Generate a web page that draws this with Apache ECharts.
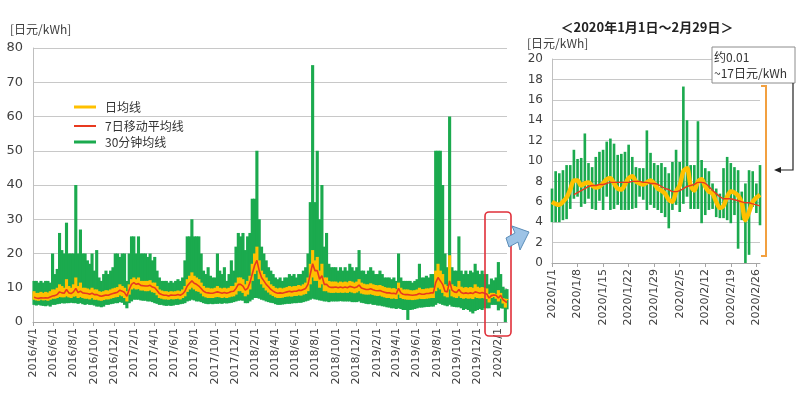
<!DOCTYPE html>
<html><head><meta charset="utf-8">
<script src="https://cdn.jsdelivr.net/npm/echarts@6/dist/echarts.min.js"></script>
<style>html,body{margin:0;padding:0;background:#fff}#c{width:800px;height:394px}</style>
</head><body><div id="c"></div><script>
// ===== Left chart (2016/4/1 - 2020/2/29), weekly summaries =====
const weekHi30 = [12,12,11.5,12, 11.5,12,12,11.5,20, 14,15.5,26,21, 20,29,20,20,20, 40,20,27,20, 20,18,17,20, 15,21,13,12,14, 15,14,15,16, 20,20,19,20,20,
 12,20,25,25, 20,25,20,20, 20,19,20,18, 19,15,13,12, 12,12,11.5,12,11.5, 12,12.5,12,13, 18,25,25,30,25, 25,25,20,15, 14,16,13.5,13,13, 20,15,14,16, 12,14,18,15, 22,26,25,26,21,
 25,26,36,36, 50,30,22,20, 18,16,15,14, 13,12.5,13,12,13, 13,14,13.5,14, 13,14,14,15, 16,20,35,75,35, 50,30,40,22, 26,17,16,16, 16,15,16,15,16, 15,17,16,15, 16,21,15,15,14,
 15,16,15,14, 14,15,14,13, 13,13,12.5,13,12, 20,13,12,12, 12,12,11.5,12, 12.5,17,13,13,13.5, 13,14,14,50, 50,50,40,20, 16,60,16,15,15, 25,15,14,15, 14,15,14.5,17, 15,14,15,14,14,
 11,12.7,12.2,13, 17.5,14,10.3,9.5,9.6];
const weekLo30 = [5,4.8,5,4.8, 4.7,4.6,4.8,4.5,5, 5,5.2,5.3,5.5, 5.4,5.5,5.5,5.6,5.5, 5.5,5.3,5.5,5.2, 5,5.2,5,5, 4.8,4.5,4.5,4.3,4.5, 5,5,5.2,5.3, 5.5,5.5,5.8,5.6,5,
 4,5.5,6,6.5, 6.5,6.5,6.3,6.2, 6.2,6,6,5.8, 5.5,5.3,5,5, 4.8,4.7,4.8,4.7,4.8, 5,5,5.2,5.3, 5.5,6,6.2,6.5,6.3, 6,6,5.8,5.5, 5.3,5.2,5.3,5.2,5.3, 5.3,5.4,5.3,5.5, 5.4,5.5,5.6,5.8, 6,6.2,6.3,6.2,5.5,
 5.5,6,6.5,7, 7,6.8,6.5,6.3, 6,5.8,5.6,5.5, 5.2,5,5,5.1,5.2, 5.3,5.3,5.4,5.5, 5.5,5.6,5.6,5.8, 6,6.2,6.5,6.8,6.6, 6.5,6.3,6.2,6, 6,5.8,6,6, 6,6,6.1,6,6, 6,6,5.8,5.8, 5.8,6,5.6,5.5,5.3,
 5.2,5.3,5,5, 4.8,4.8,4.6,4.5, 4.3,4.2,4,4,3.8, 4,3.8,3.5,3.5, 0.6,3.5,3.6,3.8, 4,4.2,4.2,4.3,4.4, 4.4,4.5,4.5,5, 5.5,5.3,5,4.8, 4.6,5,4.5,4.4,4.3, 4.3,4,3.5,3.8, 3.5,3,2.5,3.2, 3.5,3.8,3.5,4,4,
 4,5,5,5, 3.4,4,3.9,0,3.7];
const weekAvgHi = [9,8.5,8.5,8.8, 8.5,8.8,8.6,9,9.5, 9.5,10,11,10.5, 10,12.5,10.5,10,11, 13,10.5,11.5,10, 10,9.8,9.5,10, 9.5,9.5,9,8.8,9, 9.3,9.2,9.5,9.8, 10,10.2,11,10.5,10,
 9,11,12.5,13, 12.5,13,12,12, 12,12,12.2,11.5, 11.5,10.5,9.5,9.2, 9,9,8.8,9,8.9, 9,9.2,9,9.5, 10.5,12.5,13.5,14.5,13.5, 13,12.5,11.5,10.5, 10,10,9.8,9.8,10, 10.5,10,9.8,10, 9.8,10,10.5,10.5, 11.5,13,13,12.5,11,
 12,13.5,17,20, 22,18,15,14, 13,12,11,10.5, 10,9.8,10,9.8,10, 10.2,10.5,10.3,10.5, 10.5,10.8,10.6,11, 11.5,13,17,21,18, 19,15,17,13, 13,12,11.8,11.8, 11.8,11.5,11.8,11.6,11.8, 11.6,12,11.8,11.5, 11.8,12.5,11.5,11.2,11,
 11,11.3,11,10.8, 10.7,10.8,10.5,10.2, 10,10,9.8,9.9,9.6, 11.5,10,9.5,9.5, 9.5,9.3,9.2,9.3, 9.5,10,9.6,9.6,9.8, 9.8,10,10,15, 17,15,14,11, 10.5,19.5,11,10.5,10.3, 12,10.3,10,10.2, 10,10.2,10,11, 10.3,10,10.2,10,9.8,
 8.2,8.5,8.5,8.2, 9.3,8.5,7,6.8,6.7];
const weekAvgLo = [6.5,6.3,6.2,6.5, 6.3,6.4,6.2,6.5,6.8, 6.8,7,7.3,7.2, 7.2,7.5,7.2,7,7.4, 7.5,7,7.3,7, 6.8,6.8,6.6,7, 6.5,6.5,6.3,6.2,6.4, 6.6,6.6,6.8,7, 7.2,7.3,7.8,7.5,7,
 6,8,9.5,9.8, 9.5,9.6,9.2,9.2, 9,9,9.2,8.7, 8.5,7.8,7,6.8, 6.6,6.6,6.5,6.7,6.6, 6.7,6.8,6.6,7, 7.5,8.8,9.5,10,9.5, 9,8.8,8.3,7.5, 7.2,7,7,7,7.2, 7.3,7.2,7,7.2, 7,7.2,7.4,7.5, 8,9,9,8.5,7.5,
 8,9.5,12,14, 15,12.5,11,10, 9.2,8.6,8,7.6, 7.2,7,7,7.1,7.3, 7.4,7.5,7.4,7.6, 7.6,7.8,7.7,8, 8.2,9,11,13,12, 12,10,11,9, 9,8.6,8.5,8.5, 8.6,8.5,8.6,8.5,8.6, 8.5,8.8,8.6,8.4, 8.6,9,8.3,8.1,8,
 8,8.1,7.9,7.7, 7.6,7.7,7.4,7.2, 7,7,6.8,6.9,6.7, 8,7,6.7,6.6, 6.5,6.5,6.4,6.5, 6.6,6.8,6.7,6.7,6.8, 6.9,7,7,9, 10,9.5,8.5,7.5, 7.2,9.5,7.5,7.2,7, 7.5,7,6.8,7, 6.8,6.9,6.7,7.2, 7,6.9,7,6.9,6.7,
 5.7,7,7.3,6.8, 6,6.8,5.4,4.2,6.4];
const weekMA7 = [7.2,7,6.9,7.1, 7,7.1,7,7.3,7.6, 7.7,8,8.8,8.5, 8.4,9.5,8.5,8.3,8.8, 9.8,8.6,9,8.5, 8.4,8.3,8.1,8.4, 8,8,7.7,7.5,7.7, 7.9,7.8,8.1,8.3, 8.5,8.7,9.3,9,8.6,
 7.5,9.5,11,11.5, 11,11.2,10.7,10.6, 10.5,10.5,10.7,10.2, 10,9.2,8.3,8, 7.8,7.8,7.6,7.9,7.8, 7.8,8,7.8,8.2, 9,10.5,11.3,12,11.3, 11,10.5,9.8,9, 8.6,8.5,8.4,8.4,8.6, 8.8,8.6,8.4,8.6, 8.4,8.6,8.9,9, 9.8,11,11,10.5,9.3,
 9.8,11.5,14,16.5, 18,15,13,12, 11,10.3,9.5,9, 8.6,8.4,8.5,8.4,8.6, 8.8,9,8.8,9, 9,9.3,9.2,9.5, 9.8,11,14,17,15, 15,12.5,13.5,11, 11,10.3,10.1,10.1, 10.2,10,10.2,10,10.2, 10,10.4,10.2,10, 10.2,10.8,9.9,9.7,9.5,
 9.5,9.7,9.4,9.2, 9.1,9.2,8.9,8.7, 8.5,8.5,8.3,8.4,8.2, 9.8,8.5,8.1,8, 8,7.9,7.8,7.9, 8,8.3,8.1,8.1,8.3, 8.3,8.5,8.5,11.5, 13,12,11,9, 8.8,12,9.3,8.8,8.6, 9.5,8.6,8.3,8.5, 8.3,8.5,8.3,8.8, 8.6,8.4,8.6,8.4,8.2,
 7,7.7,7.9,7.8, 7,7.8,6.5,6,5.7];
const leftYTicks = [0,10,20,30,40,50,60,70,80];

// ===== Right chart (2020/1/1 - 2020/2/27), daily =====
const dayHi30 = [7.3,9,8.8,9.1,9.6,9.6,11.1,10.2,10.3,12.7,9.8,9.4,10.4,10.9,11.1,11.9,12.2,11.7,10.6,10.7,10.9,11.6,10.4,9.4,9.3,9.3,13,10.8,9.8,9.6,
 9.8,9.4,8.8,9.9,11.1,9.9,17.3,14,9.6,9.6,13.9,10.1,9.3,9,7.8,7.3,6.8,9.3,10.4,9.8,9.4,9.1,7,7.8,9.1,9,7.8,9.6];
const dayLo30 = [4,4,4,4.2,4.3,5.3,6.3,6.5,5.5,5.8,6.3,5.3,5.2,6.1,5.2,6.5,5.2,5.3,5.7,5.2,5.2,5.2,5.3,5.4,6.5,6.2,5.2,5.7,5.4,5.2,
 4.9,4.5,3.4,5.2,5.7,5,5.8,6.5,5.3,5.3,5.3,3.9,4.7,5.2,5.3,4.5,4.4,4.4,4.2,3.9,4.7,1.4,4.2,0,0.8,5.5,4.9,3.7];
const dayAvg = [6,5.8,5.7,6,6.4,7.2,8.1,8.1,7.6,7.8,7.9,7.6,7.4,7.5,7.8,8.2,8.3,7.8,7.3,7.2,7.7,8.3,8.5,8,7.8,7.7,7.9,8.1,7.8,7.3,
 7.1,6.8,6.2,6,7,7.6,9,9.3,7.6,7.1,8,8.2,7.5,7,6.8,6,5.4,5.6,6.5,7,6.9,6.6,5.9,4.2,5,6,6.4,6.7];
const dayMA7 = [null,null,null,null,null,null,6.7,6.9,7.1,7.3,7.5,7.6,7.6,7.7,7.7,7.8,7.9,7.9,7.9,7.9,7.9,7.9,8,8,8,7.9,7.9,7.8,7.8,7.7,
 7.5,7.3,7.2,7,7,7.1,7.3,7.5,7.6,7.7,7.9,7.9,7.8,7.5,7.1,6.8,6.5,6.3,6.3,6.3,6.2,6.1,6,5.9,5.9,5.8,5.7,5.6];
const rightYTicks = [0,2,4,6,8,10,12,14,16,18,20];

// ===== categories =====
function fmt(d){return d.getFullYear()+'/'+(d.getMonth()+1)+'/'+d.getDate();}
function dateRange(a,b){const out=[];const d=new Date(a[0],a[1]-1,a[2],12);const e=new Date(b[0],b[1]-1,b[2],12);while(d<=e){out.push(fmt(d));d.setDate(d.getDate()+1);}return out;}
const leftDates = dateRange([2016,4,1],[2020,2,29]);
const rightDates = dateRange([2020,1,1],[2020,2,27]);

const GREEN='#1BAA4E', YELLOW='#FFC000', RED='#E8391F', GRID='#C8C8C8', TXT='#404040';
const FONT = "'DejaVu Sans','Noto Sans CJK SC',sans-serif";
const CJK = "'Noto Sans CJK SC','DejaVu Sans',sans-serif";

const last = leftDates.length-1;
const wIdx = i => Math.min(i*7+3, last);
const leftGreen = weekHi30.map((h,i)=>[wIdx(i), weekLo30[i], h]);
const leftYellow = weekAvgHi.map((h,i)=>[wIdx(i), weekAvgLo[i], h]);
const leftRed = weekMA7.map((v,i)=>[wIdx(i), v]);
const rightGreen = dayHi30.map((h,i)=>[i, dayLo30[i], h]);

// span: width in category steps; extra: px overlap added
function rangeRender(span, color, extra){
  return function(params, api){
    const x = api.value(0), lo = api.value(1), hi = api.value(2);
    const p1 = api.coord([x, hi]), p2 = api.coord([x, lo]);
    const nb = api.coord([x > 0 ? x - 1 : x + 1, lo]);
    const unit = Math.abs(p1[0] - nb[0]);
    const w = unit * span + extra;
    return {type:'rect', shape:{x:p1[0]-w/2, y:p1[1], width:w, height:Math.max(p2[1]-p1[1],1)},
      style:{fill:color, stroke:null}};
  };
}

const chart = echarts.init(document.getElementById('c'), null, {renderer:'canvas'});
const leftInterval = (idx, val) => { const p = val.split('/'); return p[2]==='1' && (+p[1])%2===0; };
const rightInterval = (idx) => idx % 7 === 0;

chart.setOption({
  animation:false,
  backgroundColor:'#fff',
  textStyle:{fontFamily:FONT},
  grid:[
    {left:33, right:293, top:48, bottom:72, containLabel:false},
    {left:552, right:40, top:59, bottom:131, containLabel:false}
  ],
  xAxis:[
    {type:'category', gridIndex:0, data:leftDates, boundaryGap:false,
     axisLine:{lineStyle:{color:'#A6A6A6'}},
     axisTick:{interval:leftInterval, length:4, lineStyle:{color:'#A6A6A6'}},
     axisLabel:{interval:leftInterval, rotate:90, fontSize:11, color:TXT, fontFamily:FONT, margin:6},
     splitLine:{show:false}},
    {type:'category', gridIndex:1, data:rightDates, boundaryGap:false,
     axisLine:{lineStyle:{color:'#A6A6A6'}},
     axisTick:{interval:rightInterval, length:4, lineStyle:{color:'#A6A6A6'}},
     axisLabel:{interval:rightInterval, rotate:90, fontSize:11, color:TXT, fontFamily:FONT, margin:6},
     splitLine:{show:false}}
  ],
  yAxis:[
    {type:'value', gridIndex:0, min:leftYTicks[0], max:leftYTicks[leftYTicks.length-1], interval:10,
     axisLine:{show:true, lineStyle:{color:'#BFBFBF'}}, axisTick:{show:false},
     axisLabel:{fontSize:13, color:TXT, fontFamily:FONT, margin:10},
     splitLine:{lineStyle:{color:GRID}}},
    {type:'value', gridIndex:1, min:rightYTicks[0], max:rightYTicks[rightYTicks.length-1], interval:2,
     axisLine:{show:true, lineStyle:{color:'#BFBFBF'}}, axisTick:{show:false},
     axisLabel:{fontSize:12, color:TXT, fontFamily:FONT, margin:9},
     splitLine:{lineStyle:{color:GRID}}}
  ],
  series:[
    {name:'30分钟均线', type:'custom', xAxisIndex:0, yAxisIndex:0, data:leftGreen,
     encode:{x:0, y:[1,2]}, renderItem:rangeRender(7, GREEN, 0.8), z:2},
    {name:'日均线', type:'custom', xAxisIndex:0, yAxisIndex:0, data:leftYellow,
     encode:{x:0, y:[1,2]}, renderItem:rangeRender(7, YELLOW, 0.8), z:3},
    {name:'7日移动平均线', type:'line', xAxisIndex:0, yAxisIndex:0, data:leftRed,
     showSymbol:false, lineStyle:{color:RED, width:1.6}, z:4},
    {name:'30分钟均线R', type:'custom', xAxisIndex:1, yAxisIndex:1, data:rightGreen,
     encode:{x:0, y:[1,2]}, renderItem:rangeRender(0.72, GREEN, 0), z:2},
    {name:'日均线R', type:'line', xAxisIndex:1, yAxisIndex:1, data:dayAvg,
     showSymbol:false, smooth:0.3, lineStyle:{color:YELLOW, width:4.5}, z:3},
    {name:'7日移动平均线R', type:'line', xAxisIndex:1, yAxisIndex:1, data:dayMA7,
     showSymbol:false, smooth:0.2, lineStyle:{color:RED, width:1.4}, z:4}
  ],
  graphic:[
    {type:'text', left:10, top:23, style:{text:'[日元/kWh]', font:"12px "+CJK, fill:TXT}},
    {type:'text', left:527, top:37, style:{text:'[日元/kWh]', font:"12px "+CJK, fill:TXT}},
    {type:'text', x:647, y:27, style:{text:'＜2020年1月1日～2月29日＞', font:"bold 13px "+CJK, fill:'#222', textAlign:'center', textVerticalAlign:'middle'}},
    // legend
    {type:'line', shape:{x1:74,y1:107,x2:96,y2:107}, style:{stroke:YELLOW, lineWidth:3}},
    {type:'line', shape:{x1:74,y1:126,x2:96,y2:126}, style:{stroke:RED, lineWidth:2}},
    {type:'line', shape:{x1:74,y1:142,x2:96,y2:142}, style:{stroke:GREEN, lineWidth:3}},
    {type:'text', x:105, y:107, style:{text:'日均线', font:"12px "+CJK, fill:'#333', textVerticalAlign:'middle'}},
    {type:'text', x:105, y:126, style:{text:'7日移动平均线', font:"12px "+CJK, fill:'#333', textVerticalAlign:'middle'}},
    {type:'text', x:105, y:142, style:{text:'30分钟均线', font:"12px "+CJK, fill:'#333', textVerticalAlign:'middle'}},
    // red highlight box
    {type:'rect', shape:{x:485, y:212, width:26, height:124, r:4}, style:{fill:'none', stroke:'#E0303A', lineWidth:1.6}, z:10},
    // blue block arrow
    {type:'polygon', shape:{points:[[506,238],[515,233],[512,226],[529,232],[520,250],[518,242],[509,247]]},
     style:{fill:'#9DC3E6', stroke:'#5B8DB8', lineWidth:1}, z:10},
    // annotation box
    {type:'rect', shape:{x:712, y:47, width:83, height:36}, style:{fill:'#fff', stroke:'#8C8C8C', lineWidth:1}, z:10},
    {type:'text', x:714, y:57, style:{text:'约0.01', font:"12px "+CJK, fill:'#333', textVerticalAlign:'middle'}, z:11},
    {type:'text', x:714, y:73, style:{text:'~17日元/kWh', font:"12px "+CJK, fill:'#333', textVerticalAlign:'middle'}, z:11},
    // connector
    {type:'polyline', shape:{points:[[793,83],[793,170],[779,170]]}, style:{stroke:'#222', lineWidth:1.2, fill:'none'}, z:10},
    {type:'polygon', shape:{points:[[774,170],[781,167],[781,173]]}, style:{fill:'#222'}, z:10},
    // orange bracket
    {type:'polyline', shape:{points:[[761,86],[766,86],[766,256],[761,256]]}, style:{stroke:'#F2A040', lineWidth:2, fill:'none'}, z:10}
  ]
});
</script></body></html>
